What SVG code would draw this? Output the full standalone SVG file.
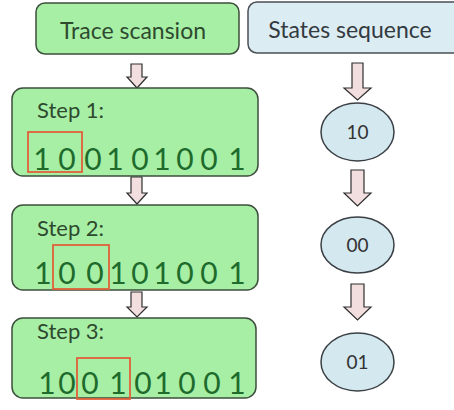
<svg xmlns="http://www.w3.org/2000/svg" width="454" height="410" viewBox="0 0 454 410">
<defs>
<style>
.gbox{fill:#a8efa6;stroke:#3d4f3d;stroke-width:1.5}
.bbox{fill:#dcecf3;stroke:#4a4f55;stroke-width:1.5}
.ell{fill:#d4e8f0;stroke:#3a3f44;stroke-width:1.5}
.arr{fill:#f2dede;stroke:#2f2f2f;stroke-width:1.2}
.sel{fill:none;stroke:#e0603a;stroke-width:1.8}
.t{font-family:Lato,"Open Sans","Liberation Sans",sans-serif}
.hd{font-size:23px;fill:#2e4a2e}
.hd2{font-size:23px;fill:#333a40}
.st{font-size:22px;fill:#2e4a2e}
.dg{font-size:30px;fill:#1e6b2c;text-anchor:middle}
.el{font-size:19px;fill:#333;text-anchor:middle}
</style>
</defs>
<rect width="454" height="410" fill="#ffffff"/>
<g id="connectors">
<path class="arr" d="M131,64 H142 V77 H147 L137,88 L127,77 H131 Z"/>
<path class="arr" d="M131,177 H142 V193 H147 L137,204 L127,193 H131 Z"/>
<path class="arr" d="M131,292 H142 V307 H147 L137,317 L127,307 H131 Z"/>
<path class="arr" d="M352,63 H363 V88 H371 L357.5,100 L344,88 H352 Z"/>
<path class="arr" d="M351,170 H364 V193 H371 L357.5,206 L344,193 H351 Z"/>
<path class="arr" d="M351,284 H364 V307 H371 L357.5,320 L344,307 H351 Z"/>
</g>
<g id="trace-scansion">
<rect class="gbox" x="36" y="3" width="203" height="51" rx="9"/>
<text class="t hd" x="133" y="39" text-anchor="middle">Trace scansion</text>
</g>
<g id="states-sequence">
<rect class="bbox" x="248" y="2" width="220" height="51" rx="9"/>
<text class="t hd2" x="350" y="38" text-anchor="middle">States sequence</text>
</g>
<g id="step1">
<rect class="gbox" x="12" y="88" width="246" height="88" rx="11"/>
<text class="t st" x="37" y="118">Step 1:</text>
<text class="t dg" x="42 67 93 115 140 162 185 209 237" y="170">100101001</text>
<rect class="sel" x="28" y="132" width="54" height="40"/>
</g>
<g id="step2">
<rect class="gbox" x="12" y="205" width="246" height="85" rx="11"/>
<text class="t st" x="37" y="236">Step 2:</text>
<text class="t dg" x="43 67 95 118 140 162 185 209 237" y="284">100101001</text>
<rect class="sel" x="53" y="245" width="56" height="44"/>
</g>
<g id="step3">
<rect class="gbox" x="12" y="318" width="244" height="80" rx="11"/>
<text class="t st" x="37" y="339">Step 3:</text>
<text class="t dg" x="47 67 90 118 143 163 187 212 237" y="394">100101001</text>
<rect class="sel" x="77" y="358" width="53" height="41"/>
</g>
<g id="state10">
<ellipse class="ell" cx="357.5" cy="132" rx="36.5" ry="29"/>
<text class="t el" x="357.5" y="139">10</text>
</g>
<g id="state00">
<ellipse class="ell" cx="357.5" cy="245" rx="36.5" ry="28"/>
<text class="t el" x="357.5" y="252">00</text>
</g>
<g id="state01">
<ellipse class="ell" cx="357.5" cy="362" rx="36.5" ry="29"/>
<text class="t el" x="357.5" y="369">01</text>
</g>
</svg>
